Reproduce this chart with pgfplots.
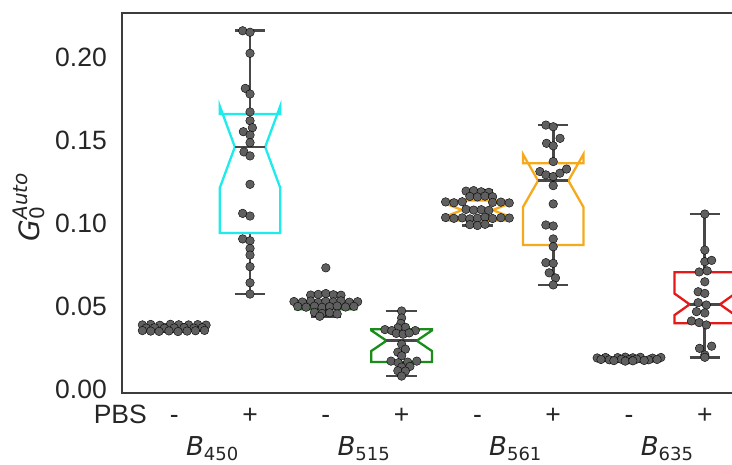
\documentclass[border=0pt]{standalone}
\usepackage{fontspec}
\setmainfont{Liberation Sans}
\newfontfamily\dejavu{DejaVu Sans}
\usepackage{pgfplots}
\pgfplotsset{compat=1.18}
\definecolor{cyanc}{RGB}{30,235,235}
\definecolor{greenc}{RGB}{25,140,25}
\definecolor{orangec}{RGB}{245,170,30}
\definecolor{redc}{RGB}{230,25,25}
\definecolor{dotc}{RGB}{95,95,95}
\definecolor{whisc}{RGB}{72,72,72}
\definecolor{spinec}{RGB}{60,60,60}
\pgfplotsset{whisk/.style={draw=whisc, line width=2.8pt},
  dots/.style={only marks, mark=*, mark size=4.3pt, mark options={draw=none, fill=dotc}}}
% pos, whislo, q1, notchlo, med, notchhi, q3, whishi, colour
\newcommand{\nbox}[9]{%
  \pgfmathsetmacro\bxl{#1-0.4}\pgfmathsetmacro\bxr{#1+0.4}%
  \pgfmathsetmacro\bcl{#1-0.2}\pgfmathsetmacro\bcr{#1+0.2}%
  \addplot[whisk] coordinates {(#1,#3) (#1,#2)};
  \addplot[whisk] coordinates {(#1,#7) (#1,#8)};
  \addplot[whisk] coordinates {(\bcl,#2) (\bcr,#2)};
  \addplot[whisk] coordinates {(\bcl,#8) (\bcr,#8)};
  \addplot[draw=#9, line width=2.3pt, line join=miter] coordinates {(\bxl,#3) (\bxr,#3) (\bxr,#4) (\bcr,#5) (\bxr,#6) (\bxr,#7) (\bxl,#7) (\bxl,#6) (\bcl,#5) (\bxl,#4)} -- cycle;
  \addplot[whisk] coordinates {(\bcl,#5) (\bcr,#5)};
}
\newcommand{\Blab}[1]{{\dejavu\fontsize{26}{30}\selectfont\itshape B}{\dejavu\fontsize{18}{20}\selectfont\raisebox{-5pt}{#1}}}
\begin{document}
\begin{tikzpicture}
\path[use as bounding box, clip] (-122pt,-71pt) rectangle (610pt,393pt);
\begin{axis}[
  scale only axis, width=628.3pt, height=380pt,
  xmin=-0.689, xmax=7.6, ymin=-0.0024, ymax=0.2265,
  clip=false,
  axis line style={draw=spinec, line width=1.6pt},
  major tick length=0pt, tick style={draw=none},
  xtick={0,1,2,3,4,5,6,7},
  xticklabels={-,+,-,+,-,+,-,+},
  ytick={0,0.05,0.1,0.15,0.2},
  tick label style={font=\fontsize{26.5}{30}\selectfont, text=black!85},
  xticklabel style={anchor=base, inner sep=0pt, yshift=-30pt},
  yticklabel style={anchor=east, inner sep=0pt, xshift=-15pt,
    /pgf/number format/fixed, /pgf/number format/fixed zerofill,
    /pgf/number format/precision=2, /pgf/number format/assume math mode=true},
]
% boxes
\nbox{0}{0.0346}{0.0351}{0.0356}{0.0367}{0.0378}{0.0386}{0.0390}{cyanc}
\nbox{1}{0.0572}{0.0940}{0.1210}{0.1458}{0.1706}{0.1657}{0.2158}{cyanc}
\nbox{2}{0.0438}{0.0480}{0.0497}{0.0508}{0.0519}{0.0530}{0.0575}{greenc}
\nbox{3}{0.0078}{0.0163}{0.0229}{0.0291}{0.0353}{0.0360}{0.0470}{greenc}
\nbox{4}{0.0985}{0.1015}{0.1043}{0.1078}{0.1113}{0.1135}{0.1195}{orangec}
\nbox{5}{0.0627}{0.0867}{0.1095}{0.1255}{0.1415}{0.1360}{0.1590}{orangec}
\nbox{6}{0.0168}{0.0175}{0.0178}{0.0180}{0.0182}{0.0188}{0.0192}{redc}
\nbox{7}{0.0191}{0.0396}{0.0445}{0.0510}{0.0575}{0.0703}{0.1054}{redc}
% swarms
\addplot[dots] coordinates {
(-0.42,0.0386) (-0.31,0.0389) (0.31,0.0388) (0.42,0.0385) (-0.19,0.0384) (0.19,0.0386) (-0.05,0.0390) (0.06,0.0387)
(-0.37,0.0367) (-0.26,0.0369) (-0.13,0.0366) (0.0,0.0368) (0.13,0.0370) (0.26,0.0367) (0.37,0.0369)
(-0.42,0.0352) (-0.31,0.0349) (-0.2,0.0347) (-0.07,0.0350) (0.05,0.0346) (0.17,0.0349) (0.28,0.0351) (0.40,0.0353)};
\addplot[dots] coordinates {
(0.903,0.2158) (1,0.2149) (1,0.2022) (0.938,0.1811) (1,0.1777) (1,0.1669) (1,0.1616) (1.031,0.1574)
(0.912,0.1550) (1,0.1530) (1,0.1484) (0.92,0.1428) (1,0.1404) (1,0.1233) (0.903,0.1058) (1,0.1042)
(0.903,0.0904) (1,0.0893) (1,0.0847) (1,0.0807) (1,0.0737) (1,0.0640) (1,0.0572)};
\addplot[dots] coordinates {
(1.8,0.0566) (1.9,0.0570) (2.0,0.0575) (2.1,0.0568) (2.2,0.0565)
(1.58,0.0527) (1.69,0.0524) (1.8,0.0530) (1.9,0.0522) (2.0,0.0528) (2.1,0.0525) (2.2,0.0531) (2.31,0.0523) (2.42,0.0526)
(1.63,0.0497) (1.74,0.0493) (1.85,0.0499) (1.95,0.0492) (2.05,0.0496) (2.15,0.0500) (2.26,0.0494) (2.37,0.0498)
(1.85,0.0462) (1.95,0.0455) (2.05,0.0459) (2.15,0.0452) (1.92,0.0438) (2.0,0.0730)};
\addplot[dots] coordinates {
(3,0.0470) (3,0.0428) (2.99,0.0395) (3.05,0.0372) (2.95,0.0368) (2.78,0.0358) (2.87,0.0352) (3.18,0.0352)
(2.93,0.0335) (3.02,0.0330) (3.10,0.0338) (3,0.0270) (3.05,0.0240) (2.95,0.0222) (3,0.0200)
(2.86,0.0168) (2.955,0.0158) (3.08,0.0162) (3.2,0.0168) (3,0.0132) (3.11,0.0136) (2.95,0.0110) (3.05,0.0108) (3,0.0078)};
\addplot[dots] coordinates {
(3.85,0.1192) (3.95,0.1195) (4.05,0.1188) (4.15,0.1185)
(3.9,0.1160) (4.0,0.1157) (4.1,0.1162) (4.2,0.1158)
(3.58,0.1127) (3.69,0.1122) (3.8,0.1128) (4.2,0.1124) (4.31,0.1126) (4.42,0.1121)
(3.85,0.1082) (3.95,0.1078) (4.05,0.1080) (4.15,0.1076)
(3.58,0.1033) (3.69,0.1028) (3.8,0.1031) (3.9,0.1025) (4.0,0.1029) (4.1,0.1034) (4.2,0.1027) (4.31,0.1032) (4.42,0.1030)
(3.9,0.0990) (4.0,0.0985) (4.1,0.0992)};
\addplot[dots] coordinates {
(4.903,0.1590) (5,0.1580) (4.912,0.1480) (5.09,0.1510) (5,0.1465) (5,0.1370) (4.824,0.1310) (4.903,0.1290)
(5,0.1280) (5.088,0.1300) (5.176,0.1325) (5,0.1225) (5,0.1115) (4.903,0.0988) (5,0.0982) (5,0.0904)
(5,0.0857) (4.903,0.0761) (5,0.0757) (4.947,0.0700) (5.03,0.0669) (5,0.0627)};
\addplot[dots] coordinates {
(5.58,0.0187) (5.69,0.0190) (5.85,0.0189) (5.95,0.0192) (6.05,0.0188) (6.15,0.0191) (6.31,0.0186) (6.42,0.0190)
(5.63,0.0178) (5.74,0.0176) (5.9,0.0179) (6.0,0.0177) (6.1,0.0180) (6.26,0.0176) (6.37,0.0178)
(5.8,0.0171) (5.95,0.0168) (6.05,0.0170) (6.2,0.0172)};
\addplot[dots] coordinates {
(7,0.1054) (7,0.0837) (7,0.0767) (7.09,0.0775) (6.925,0.0705) (7.03,0.0712) (7,0.0646) (6.912,0.0586)
(7,0.0576) (6.912,0.0520) (7.02,0.0506) (6.89,0.0466) (7,0.0458) (6.824,0.0410) (6.925,0.0400)
(7.02,0.0386) (6.93,0.0245) (7.09,0.0258) (7,0.0205) (7,0.0191)};
% labels
\node[anchor=base east, inner sep=0pt, text=black!85, font=\fontsize{26.5}{30}\selectfont] at (rel axis cs:0,0) [xshift=25pt, yshift=-30pt] {PBS};
\node[anchor=base, inner sep=0pt, text=black!85] at (axis cs:0.5,-0.0024) [yshift=-62pt] {\Blab{450}};
\node[anchor=base, inner sep=0pt, text=black!85] at (axis cs:2.5,-0.0024) [yshift=-62pt] {\Blab{515}};
\node[anchor=base, inner sep=0pt, text=black!85] at (axis cs:4.5,-0.0024) [yshift=-62pt] {\Blab{561}};
\node[anchor=base, inner sep=0pt, text=black!85] at (axis cs:6.5,-0.0024) [yshift=-62pt] {\Blab{635}};
\node[inner sep=0pt, text=black!85, xshift=-93pt, yshift=186pt, rotate=90] at (rel axis cs:0,0)
  {{\dejavu\fontsize{28}{32}\selectfont\itshape G}\rlap{\dejavu\fontsize{20}{22}\selectfont\raisebox{-5pt}{0}}{\dejavu\fontsize{20}{22}\selectfont\itshape\raisebox{12pt}{Auto}}};
\end{axis}
\end{tikzpicture}
\end{document}
